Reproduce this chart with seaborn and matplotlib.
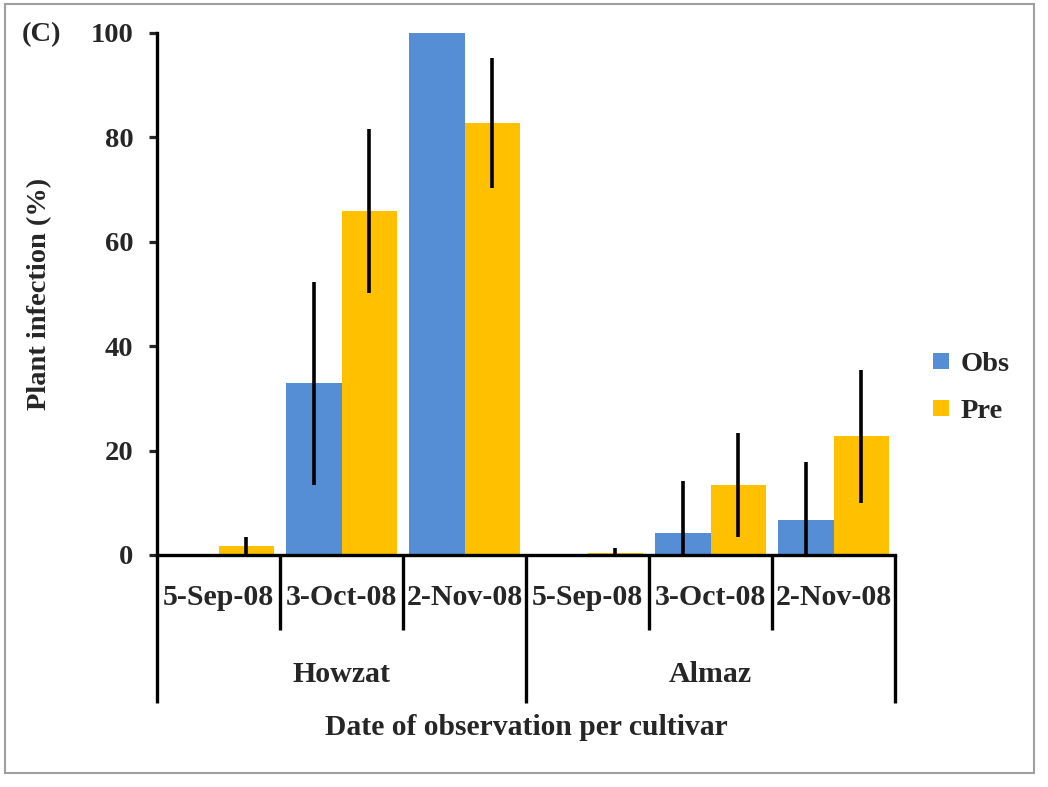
import matplotlib
matplotlib.use("Agg")
import matplotlib.pyplot as plt
import matplotlib.transforms as mtransforms
from matplotlib.lines import Line2D
from matplotlib.patches import Rectangle
import seaborn as sns
import pandas as pd
import numpy as np

# ---- data ----
cultivars = ["Howzat", "Almaz"]
dates = ["5-Sep-08", "3-Oct-08", "2-Nov-08"]
series = ["Obs", "Pre"]
obs = [0.0, 32.9, 100.0, 0.0, 4.2, 6.7]
obs_err = [0.0, 19.4, 0.0, 0.0, 9.9, 11.2]
pre = [1.7, 65.9, 82.8, 0.3, 13.4, 22.7]
pre_err = [1.7, 15.7, 12.5, 1.0, 9.9, 12.8]
yticks = [0, 20, 40, 60, 80, 100]

cat_keys = [f"{c}|{d}" for c in cultivars for d in dates]
df = pd.DataFrame({
    "cat": cat_keys * 2,
    "series": [series[0]] * 6 + [series[1]] * 6,
    "value": obs + pre,
})
errs = {"Obs": obs_err, "Pre": pre_err}

sns.set_style("white")
plt.rcParams["font.family"] = ["Liberation Serif", "DejaVu Serif"]
plt.rcParams["font.weight"] = "bold"

fig = plt.figure(figsize=(10.48, 7.87), dpi=100)
ax = fig.add_axes([0.1498, 0.2948, 0.7044, 0.6633])

colors = {"Obs": "#558ED5", "Pre": "#FFC000"}
sns.barplot(data=df, x="cat", y="value", hue="series", order=cat_keys,
            hue_order=series, palette=colors, width=0.9, errorbar=None,
            linewidth=0, saturation=1, ax=ax, legend=False)

# error bars
for cont, s in zip(ax.containers, series):
    for bar, e in zip(cont, errs[s]):
        if e > 0:
            xc = bar.get_x() + bar.get_width() / 2
            ax.errorbar(xc, bar.get_height(), yerr=e, fmt="none",
                        ecolor="black", elinewidth=2.6, capsize=0)

ax.set_xlim(-0.5, 5.5)
ax.set_ylim(0, 100)
ax.set_yticks(yticks)
ax.set_yticklabels([str(v) for v in yticks], fontsize=20.5, fontweight="bold")
ax.tick_params(axis="y", direction="out", length=6, width=2.3, pad=11, left=True)
ax.set_xticks(range(6))
ax.set_xticklabels(dates * 2, fontsize=21.5, fontweight="bold")
ax.tick_params(axis="x", length=0, pad=21)
ax.set_xlabel("")
ax.set_ylabel("Plant infection (%)", fontsize=20.5, fontweight="bold")
ax.yaxis.set_label_coords(-0.142, 0.5)

for sp in ["top", "right"]:
    ax.spines[sp].set_visible(False)
for sp in ["left", "bottom"]:
    ax.spines[sp].set_linewidth(2.4)
    ax.spines[sp].set_color("black")

trans = mtransforms.blended_transform_factory(ax.transData, ax.transAxes)
for i in range(7):
    xb = i - 0.5
    low = -0.284 if i % 3 == 0 else -0.144
    ax.plot([xb, xb], [0, low], color="black", lw=2.4, transform=trans,
            clip_on=False, solid_capstyle="butt")

for gi, c in enumerate(cultivars):
    ax.text(gi * 3 + 1, -0.229, c, transform=trans, ha="center", va="center",
            fontsize=21.5, fontweight="bold")

ax.text(0.5, -0.33, "Date of observation per cultivar", transform=ax.transAxes,
        ha="center", va="center", fontsize=21.3, fontweight="bold")

fig.text(0.021, 0.956, "(C)", ha="left", va="center", fontsize=20.5, fontweight="bold")

handles = [Line2D([0], [0], marker="s", linestyle="none", markersize=11,
                  markerfacecolor=colors[s], markeredgewidth=0) for s in series]
fig.legend(handles, series, loc="center left", bbox_to_anchor=(0.888, 0.508),
           frameon=False, borderpad=0, borderaxespad=0, handlelength=0.75,
           handletextpad=0.3, labelspacing=0.75,
           prop={"size": 20.5, "weight": "bold"})

fig.patches.append(Rectangle((0.0048, 0.0178), 0.9818, 0.977, transform=fig.transFigure,
                             fill=False, edgecolor="#a0a0a0", lw=1.5))

fig.savefig("out.png", dpi=100)
